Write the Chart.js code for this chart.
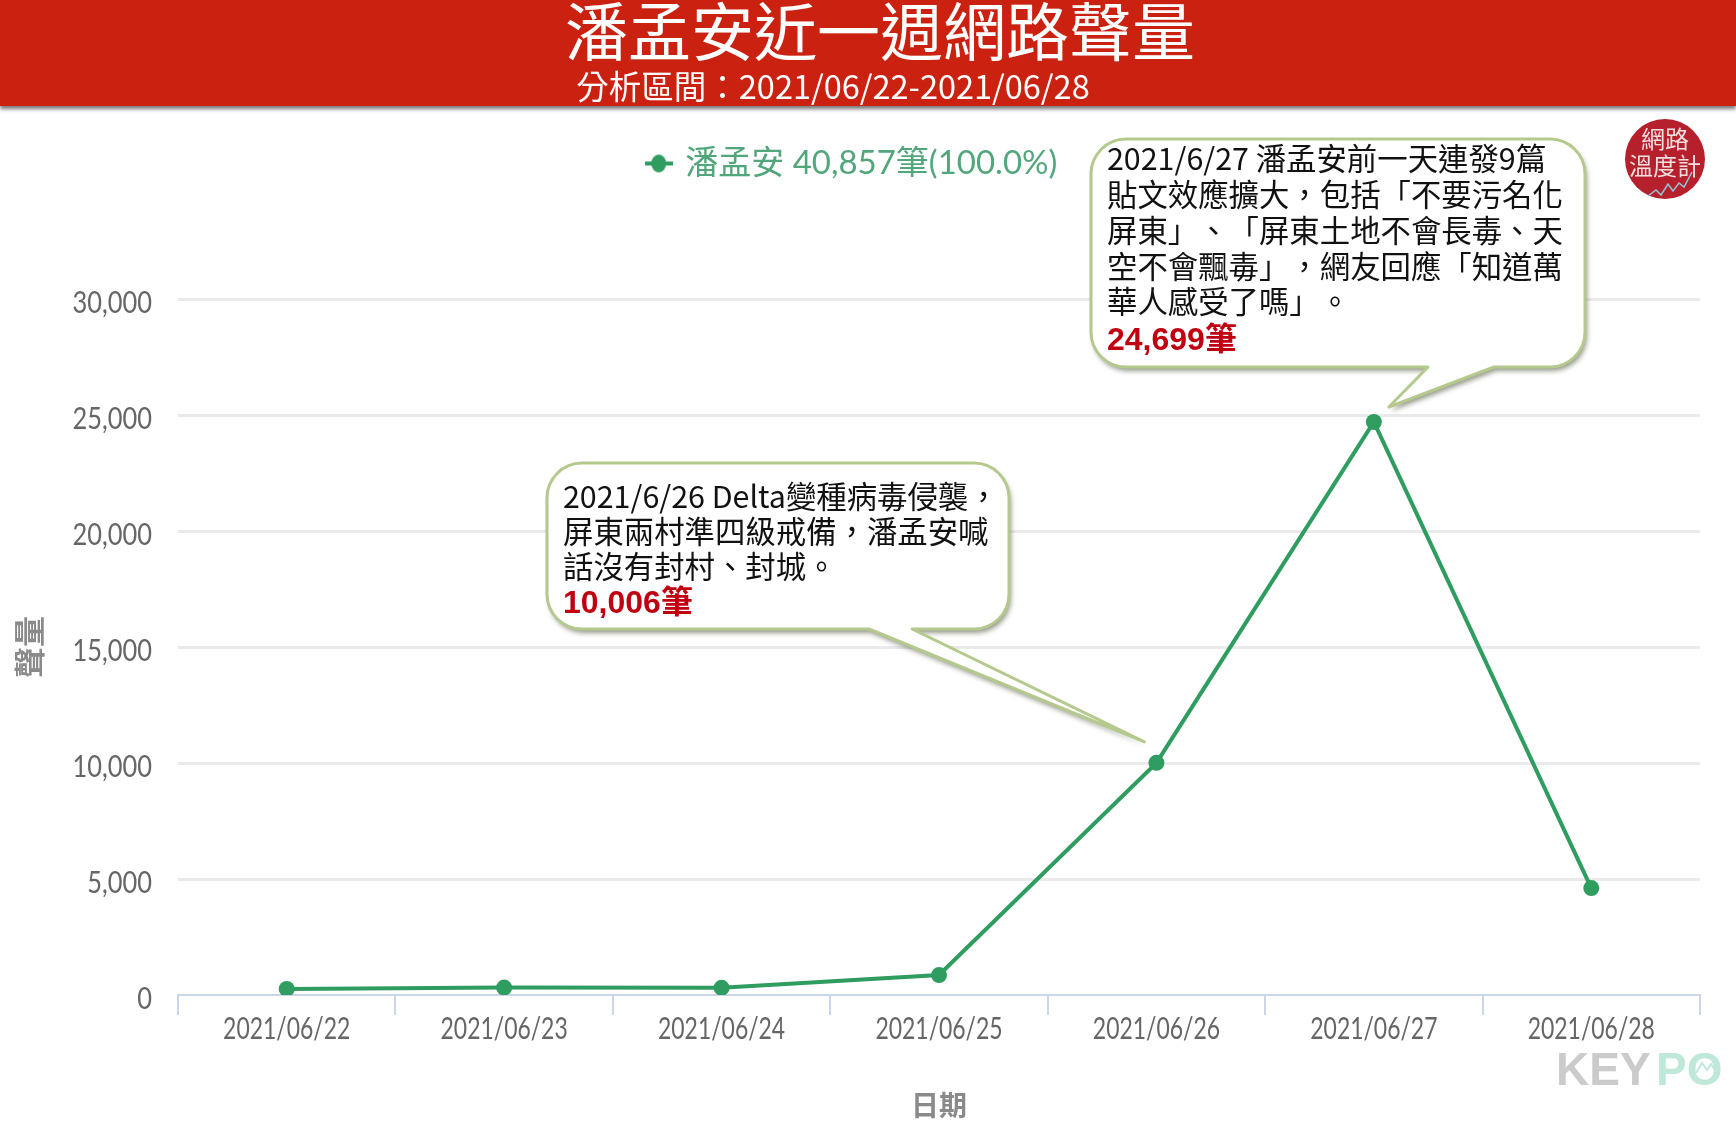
<!DOCTYPE html>
<html lang="zh-TW">
<head>
<meta charset="utf-8">
<title>潘孟安近一週網路聲量</title>
<script src="https://cdn.jsdelivr.net/npm/chart.js@4"></script>
<style>
  html, body { margin: 0; padding: 0; background: #fff; }
  canvas { display: block; }
</style>
</head>
<body>
<canvas id="lineChart" width="1736" height="1122"></canvas>
<script>
// Chart data
const dates = ['2021/06/22', '2021/06/23', '2021/06/24', '2021/06/25', '2021/06/26', '2021/06/27', '2021/06/28'];
const volumes = [260, 320, 310, 860, 10006, 24699, 4610];
const yTickValues = [0, 5000, 10000, 15000, 20000, 25000, 30000];
const seriesLabel = '潘孟安 40,857筆(100.0%)';

// Header and annotation text
const titleText = '潘孟安近一週網路聲量';
const subtitleText = '分析區間：2021/06/22-2021/06/28';
const note27Lines = ['2021/6/27 潘孟安前一天連發9篇', '貼文效應擴大，包括「不要污名化', '屏東」、「屏東土地不會長毒、天', '空不會飄毒」，網友回應「知道萬', '華人感受了嗎」。'];
const note27Count = '24,699筆';
const note26Lines = ['2021/6/26 Delta變種病毒侵襲，', '屏東兩村準四級戒備，潘孟安喊', '話沒有封村、封城。'];
const note26Count = '10,006筆';

const CJK = '"Noto Sans CJK TC"';
const AXIS_FONT = 'Lato, "Noto Sans CJK TC"';
const GREEN = '#2f9c60';

// Legend marker: a dot sitting on a short line
const legendMarker = document.createElement('canvas');
legendMarker.width = 28;
legendMarker.height = 20;
const mctx = legendMarker.getContext('2d');
mctx.fillStyle = GREEN;
mctx.fillRect(0, 8, 28, 4);
mctx.beginPath();
mctx.ellipse(14, 10, 7.5, 9, 0, 0, Math.PI * 2);
mctx.fill();

// The reference tick labels are horizontally squeezed, no installed font is that narrow
function squeezeTickLabels(scale, factor, shiftY) {
    if (scale.squeezed) return;
    scale.squeezed = true;
    const drawLabels = scale.drawLabels;
    scale.drawLabels = function (area) {
        const c = this.ctx;
        const fillText = c.fillText;
        c.fillText = function (text, x, y) {
            c.save();
            c.translate(x, y + shiftY);
            c.scale(factor, 1);
            fillText.call(c, text, 0, 0);
            c.restore();
        };
        drawLabels.call(this, area);
        delete c.fillText;
    };
}

// Speech bubble with a tail on its bottom edge
function drawBubble(ctx, box, tailFrom, tailTo, tip) {
    const r = 35;
    ctx.save();
    ctx.beginPath();
    ctx.moveTo(box.left + r, box.top);
    ctx.arcTo(box.right, box.top, box.right, box.bottom, r);
    ctx.arcTo(box.right, box.bottom, box.left, box.bottom, r);
    ctx.lineTo(tailTo, box.bottom);
    ctx.lineTo(tip.x, tip.y);
    ctx.lineTo(tailFrom, box.bottom);
    ctx.arcTo(box.left, box.bottom, box.left, box.top, r);
    ctx.arcTo(box.left, box.top, box.right, box.top, r);
    ctx.closePath();
    ctx.shadowColor = 'rgba(60, 70, 40, 0.55)';
    ctx.shadowBlur = 5;
    ctx.shadowOffsetX = 2;
    ctx.shadowOffsetY = 4;
    ctx.fillStyle = '#fff';
    ctx.fill();
    ctx.shadowColor = 'transparent';
    ctx.strokeStyle = '#b5c98e';
    ctx.lineWidth = 3;
    ctx.lineJoin = 'round';
    ctx.stroke();
    ctx.restore();
}

// Zero width spaces keep the browser from trimming neighbouring full width punctuation
function keepFullWidth(line) {
    return line.replace(/([「」、，。])/g, '\u200b$1\u200b');
}

function drawNote(ctx, x, lineYs, lines, countText, countY) {
    ctx.save();
    ctx.textAlign = 'left';
    ctx.textBaseline = 'middle';
    ctx.fillStyle = '#111';
    ctx.font = '30.4px ' + CJK;
    lines.forEach((line, i) => ctx.fillText(keepFullWidth(line), x, lineYs[i]));
    ctx.fillStyle = '#c00010';
    ctx.font = 'bold 32px "Liberation Sans", ' + CJK;
    ctx.fillText(countText, x, countY);
    ctx.restore();
}

// Draws the red header, the bubbles and the two logos on top of the chart
const decorations = {
    id: 'decorations',
    beforeLayout(chart) {
        // Legend box runs from the top padding down to the 30,000 gridline
        const legend = chart.legend;
        if (legend.fixedHeight) return;
        legend.fixedHeight = true;
        const fit = legend.fit;
        legend.fit = function () {
            fit.call(this);
            this.height = 272;
        };
    },
    afterDraw(chart) {
        const ctx = chart.ctx;
        const xs = chart.scales.x;
        const ys = chart.scales.y;

        // Header band
        ctx.save();
        ctx.shadowColor = 'rgba(0, 0, 0, 0.55)';
        ctx.shadowBlur = 4;
        ctx.shadowOffsetY = 3;
        ctx.fillStyle = '#cb2110';
        ctx.fillRect(0, 0, 1736, 106);
        ctx.restore();

        ctx.save();
        ctx.fillStyle = '#fff';
        ctx.textAlign = 'center';
        ctx.textBaseline = 'middle';
        ctx.font = '63px ' + CJK;
        ctx.fillText(titleText, 880, 31);
        ctx.font = '32.5px ' + CJK;
        ctx.fillText(subtitleText, 833, 87);
        ctx.restore();

        // Bubbles, tails point at their data points
        drawBubble(ctx, {left: 1091, right: 1585, top: 139, bottom: 367}, 1428, 1494,
            {x: xs.getPixelForValue(5) + 15, y: ys.getPixelForValue(volumes[5]) - 15});
        drawNote(ctx, 1107, [158, 194, 230, 266, 301], note27Lines, note27Count, 341);

        drawBubble(ctx, {left: 547, right: 1009, top: 463, bottom: 629}, 869, 912,
            {x: xs.getPixelForValue(4) - 12, y: ys.getPixelForValue(volumes[4]) - 21});
        drawNote(ctx, 563, [496, 531, 566], note26Lines, note26Count, 604);

        // Round badge, top right
        ctx.save();
        ctx.fillStyle = '#b5202c';
        ctx.beginPath();
        ctx.arc(1665, 159, 40, 0, Math.PI * 2);
        ctx.fill();
        ctx.fillStyle = '#f3dfe0';
        ctx.textAlign = 'center';
        ctx.textBaseline = 'middle';
        ctx.font = '24px ' + CJK;
        ctx.fillText('網路', 1665, 139);
        ctx.fillText('溫度計', 1665, 166);
        ctx.strokeStyle = '#8fc7d8';
        ctx.lineWidth = 1.5;
        ctx.beginPath();
        [[1648, 196], [1656, 190], [1661, 195], [1668, 184], [1673, 191], [1679, 183], [1684, 187], [1692, 172]]
            .forEach((p, i) => i ? ctx.lineTo(p[0], p[1]) : ctx.moveTo(p[0], p[1]));
        ctx.stroke();
        ctx.restore();

        // KEYPO watermark
        ctx.save();
        ctx.textAlign = 'left';
        ctx.textBaseline = 'alphabetic';
        ctx.font = 'bold 46px "Liberation Sans"';
        ctx.fillStyle = '#cbcbcb';
        ctx.fillText('KEY', 1556, 1085);
        ctx.fillStyle = '#bfe8d8';
        ctx.fillText('PO', 1656, 1085);
        ctx.strokeStyle = '#bfe8d8';
        ctx.lineWidth = 2;
        ctx.beginPath();
        [[1696, 1073], [1702, 1063], [1707, 1070], [1711, 1064], [1716, 1072]]
            .forEach((p, i) => i ? ctx.lineTo(p[0], p[1]) : ctx.moveTo(p[0], p[1]));
        ctx.stroke();
        ctx.restore();
    }
};

const ctx = document.getElementById('lineChart').getContext('2d');

new Chart(ctx, {
    type: 'line',
    data: {
        labels: dates,
        datasets: [{
            label: seriesLabel,
            data: volumes,
            borderColor: GREEN,
            backgroundColor: GREEN,
            borderWidth: 4,
            tension: 0,
            pointStyle: 'circle',
            pointRadius: 8,
            pointBackgroundColor: GREEN,
            pointBorderWidth: 0
        }]
    },
    options: {
        responsive: false,
        animation: false,
        devicePixelRatio: 1,
        layout: {
            padding: {left: 6, right: 36, top: 27, bottom: 0}
        },
        scales: {
            x: {
                offset: true,
                afterFit: scale => { scale.height = 127; squeezeTickLabels(scale, 0.74, 0); },
                border: {color: '#ccd6eb', width: 2},
                grid: {
                    offset: true,
                    drawOnChartArea: false,
                    drawTicks: true,
                    tickLength: 20,
                    tickColor: '#ccd6eb',
                    lineWidth: 2
                },
                ticks: {
                    color: '#666',
                    padding: -5,
                    maxRotation: 0,
                    font: {family: AXIS_FONT, size: 31}
                },
                title: {
                    display: true,
                    text: '日期',
                    color: '#8a8a8a',
                    font: {family: CJK, size: 28, weight: 'bold'},
                    padding: {top: 0, bottom: 0}
                }
            },
            y: {
                min: 0,
                max: 30000,
                afterFit: scale => { scale.width = 172; squeezeTickLabels(scale, 0.82, 4); },
                afterBuildTicks: scale => { scale.ticks = yTickValues.map(v => ({value: v})); },
                border: {display: false},
                grid: {
                    drawTicks: false,
                    lineWidth: 3,
                    color: context => context.tick.value === 0 ? 'transparent' : '#e8eaec'
                },
                ticks: {
                    color: '#666',
                    padding: 26,
                    font: {family: AXIS_FONT, size: 31},
                    callback: value => value.toLocaleString('en-US')
                },
                title: {
                    display: true,
                    text: '聲量',
                    color: '#8a8a8a',
                    font: {family: CJK, size: 31, weight: 'bold'},
                    padding: {top: 5, bottom: 0}
                }
            }
        },
        plugins: {
            tooltip: {enabled: false},
            legend: {
                position: 'top',
                labels: {
                    usePointStyle: true,
                    pointStyle: legendMarker,
                    pointStyleWidth: 20,
                    color: '#52a67c',
                    padding: 120,
                    font: {family: AXIS_FONT, size: 33}
                }
            }
        }
    },
    plugins: [decorations]
});
</script>
</body>
</html>
